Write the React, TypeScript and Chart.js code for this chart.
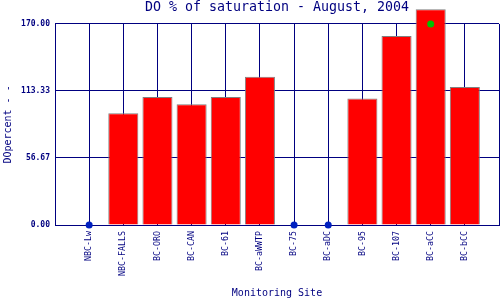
import React, { useEffect, useRef } from "react";
import { Chart, registerables } from "chart.js";

Chart.register(...registerables);

const categories = ["NBC-Lw", "NBC-FALLS", "BC-ORO", "BC-CAN", "BC-61", "BC-aWWTP", "BC-75", "BC-aDC", "BC-95", "BC-107", "BC-aCC", "BC-bCC"];
const doPercent = [null, 94.6, 108.2, 102.2, 108.2, 125.4, null, null, 107.0, 159.8, 182.4, 116.6];
const noDataMarkers = [0, null, null, null, null, null, 0, 0, null, null, null, null];
const limitMarkers = [null, null, null, null, null, null, null, null, null, null, 170, null];
const yTickValues = [0, 56.67, 113.33, 170];
const yTickLabels = ["0.00", "56.67", "113.33", "170.00"];

const NAVY = "#000080";
const FONT = "'DejaVu Sans Mono', 'Liberation Mono', monospace";

const pad = (arr: (number | null)[]) => [null, ...arr, null];

export default function App() {
  const ref = useRef<HTMLCanvasElement | null>(null);
  useEffect(() => {
    if (!ref.current) return;
    const chart = new Chart(ref.current, {
      type: "bar",
      data: {
        labels: ["", ...categories, ""],
        datasets: [
          {
            type: "line",
            data: pad(noDataMarkers),
            showLine: false,
            pointRadius: 3.5,
            pointBackgroundColor: "#0020c0",
            pointBorderColor: "#0020c0",
            pointBorderWidth: 0,
            clip: false,
            order: 0,
          } as any,
          {
            type: "line",
            data: pad(limitMarkers),
            showLine: false,
            pointRadius: 3.5,
            pointBackgroundColor: "#00c000",
            pointBorderColor: "#00c000",
            pointBorderWidth: 0,
            clip: false,
            order: 0,
          } as any,
          {
            type: "bar",
            data: pad(doPercent),
            backgroundColor: "#ff0000",
            borderColor: "#808080",
            borderWidth: 1,
            barPercentage: 0.88,
            categoryPercentage: 1,
            clip: false,
            order: 1,
          } as any,
        ],
      },
      options: {
        responsive: false,
        animation: false,
        devicePixelRatio: 1,
        layout: { autoPadding: false, padding: { left: 0, right: 1, top: 0, bottom: 0 } },
        plugins: {
          legend: { display: false },
          tooltip: { enabled: false },
          title: {
            display: true,
            text: "DO % of saturation - August, 2004",
            color: NAVY,
            fullSize: false,
            font: { family: FONT, size: 13.3, weight: "normal", lineHeight: 1.2 },
            padding: { top: 0, bottom: 8 },
          },
        },
        scales: {
          x: {
            offset: false,
            grid: { color: NAVY, lineWidth: 1, drawTicks: false, offset: false },
            border: { color: NAVY, width: 1 },
            ticks: {
              color: NAVY,
              autoSkip: false,
              minRotation: 90,
              maxRotation: 90,
              padding: 6,
              font: { family: FONT, size: 8.3 },
            },
            title: {
              display: true,
              text: "Monitoring Site",
              color: NAVY,
              font: { family: FONT, size: 10, lineHeight: 1.2 },
              padding: { top: 0, bottom: 1 },
            },
            afterFit: (scale: any) => {
              scale.height = 75;
              scale.paddingLeft = 0;
              scale.paddingRight = 0;
            },
          },
          y: {
            min: 0,
            max: 170,
            grid: { color: NAVY, lineWidth: 1, drawTicks: false },
            border: { color: NAVY, width: 1 },
            afterBuildTicks: (scale: any) => {
              scale.ticks = yTickValues.map((v) => ({ value: v }));
            },
            ticks: {
              color: NAVY,
              padding: 5,
              font: { family: FONT, size: 8, weight: "bold" },
              callback: (_v: any, i: number) => yTickLabels[i],
            },
            title: {
              display: true,
              text: "DOpercent - -",
              color: NAVY,
              font: { family: FONT, size: 10, lineHeight: 1.2 },
              padding: { top: 2, bottom: 0 },
            },
            afterFit: (scale: any) => {
              scale.width = 55;
              scale.paddingTop = 0;
              scale.paddingBottom = 0;
            },
          },
        },
      } as any,
    });
    return () => chart.destroy();
  }, []);
  return (
    <div style={{ position: "absolute", left: 0, top: 0, width: 500, height: 300, background: "#fff" }}>
      <canvas ref={ref} width={500} height={300} />
    </div>
  );
}
